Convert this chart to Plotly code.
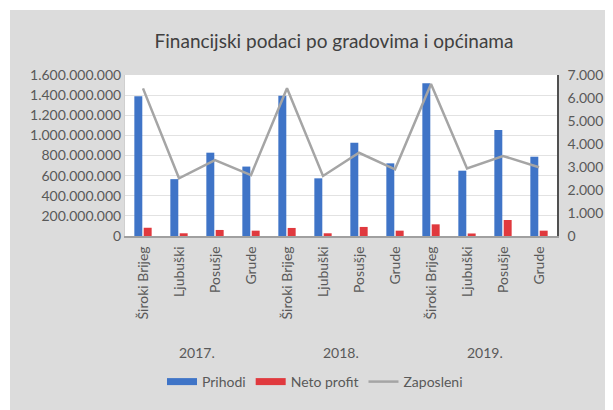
import plotly.graph_objects as go

years = ["2017.", "2018.", "2019."]
cities = ["Široki Brijeg", "Ljubuški", "Posušje", "Grude"]
categories = cities * 3
prihodi = [1390e6, 565e6, 828e6, 690e6,
           1394e6, 573e6, 927e6, 722e6,
           1517e6, 649e6, 1053e6, 788e6]
neto_profit = [82e6, 27e6, 60e6, 53e6,
               80e6, 27e6, 90e6, 53e6,
               116e6, 25e6, 159e6, 53e6]
zaposleni = [6420, 2510, 3300, 2650,
             6420, 2610, 3620, 2900,
             6610, 2940, 3480, 2990]
left_ticks = [0, 200e6, 400e6, 600e6, 800e6, 1000e6, 1200e6, 1400e6, 1600e6]
right_ticks = [0, 1000, 2000, 3000, 4000, 5000, 6000, 7000]

BLUE, RED, GRAY = "#3f74c7", "#e0393e", "#a5a5a5"

W, H = 613, 410
OFF = 8  # page body margin
# plot area in screen pixels: x 125..557, y 75..236
L = 125 - OFF
R = W - (557 - OFF)
T = 75 - OFF
B = H - (236 - OFF)
pw, ph = W - L - R, H - T - B

FONT = "Lato, Open Sans, sans-serif"
TXT = "#595959"

xpos = list(range(len(categories)))

fig = go.Figure()
fig.add_trace(go.Bar(x=xpos, y=prihodi, name="Prihodi", marker_color=BLUE,
                     marker_line_width=0, showlegend=False))
fig.add_trace(go.Bar(x=xpos, y=neto_profit, name="Neto profit", marker_color=RED,
                     marker_line_width=0, showlegend=False))
fig.add_trace(go.Scatter(x=xpos, y=zaposleni, name="Zaposleni", yaxis="y2",
                         mode="lines", line=dict(color=GRAY, width=2.5), showlegend=False))
# legend entries (wide swatches like the original)
for name, col, w in [("Prihodi", BLUE, 7), ("Neto profit", RED, 7), ("Zaposleni", GRAY, 2.5)]:
    fig.add_trace(go.Scatter(x=[None], y=[None], name=name, mode="lines",
                             line=dict(color=col, width=w)))


def px_x(p):
    return (p - OFF - L) / pw


def px_y(p):
    return (H - B - (p - OFF)) / ph


shapes = [
    dict(type="rect", xref="paper", yref="paper", x0=px_x(-20), x1=px_x(W + 20),
         y0=px_y(10), y1=px_y(-20), fillcolor="white", line_width=0, layer="above"),
    dict(type="rect", xref="paper", yref="paper", x0=px_x(-20), x1=px_x(10),
         y0=px_y(H + 20), y1=px_y(-20), fillcolor="white", line_width=0, layer="above"),
]

annotations = []
for i, yr in enumerate(years):
    annotations.append(dict(x=i * 4 + 1.5, xref="x", y=px_y(352), yref="paper",
                            text=yr, showarrow=False, xanchor="center", yanchor="middle",
                            font=dict(size=14, color=TXT, family=FONT)))

fig.update_layout(
    width=W, height=H,
    margin=dict(l=L, r=R, t=T, b=B, pad=0),
    paper_bgcolor="#dcdcdc",
    plot_bgcolor="white",
    separators=",.",
    barmode="group", bargap=0.48, bargroupgap=0.15,
    title=dict(text="Financijski podaci po gradovima i općinama", xref="container",
               x=(334 - OFF) / W, xanchor="center",
               yref="container", y=1 - (41 - OFF) / H, yanchor="middle",
               font=dict(size=19, color="#404040", family=FONT)),
    font=dict(family=FONT, color=TXT, size=14),
    xaxis=dict(range=[-0.5, 11.5], tickvals=xpos, ticktext=categories, tickangle=-90,
               showgrid=False, showline=True, linecolor="#a0a0a0", linewidth=1.5,
               ticks="", tickfont=dict(size=14, color=TXT), zeroline=False,
               ticklabelstandoff=3),
    yaxis=dict(range=[0, 1600e6], tickvals=left_ticks, tickformat=",.0f",
               showgrid=True, gridcolor="#e2e2e2", gridwidth=1, zeroline=False,
               showline=True, linecolor="#d0d0d0", ticks="",
               tickfont=dict(size=14, color=TXT)),
    yaxis2=dict(range=[0, 7000], tickvals=right_ticks, tickformat=",.0f",
                overlaying="y", side="right", showgrid=False, zeroline=False,
                showline=True, linecolor="#505050", linewidth=1.5, ticks="",
                tickfont=dict(size=14, color=TXT), ticklabelstandoff=6),
    legend=dict(orientation="h", x=px_x(315), xanchor="center", y=px_y(382), yanchor="middle",
                bgcolor="rgba(0,0,0,0)", font=dict(size=14, color=TXT, family=FONT),
                itemwidth=30, traceorder="normal", tracegroupgap=0),
    shapes=shapes,
    annotations=annotations,
)

fig.write_html("out.html")
